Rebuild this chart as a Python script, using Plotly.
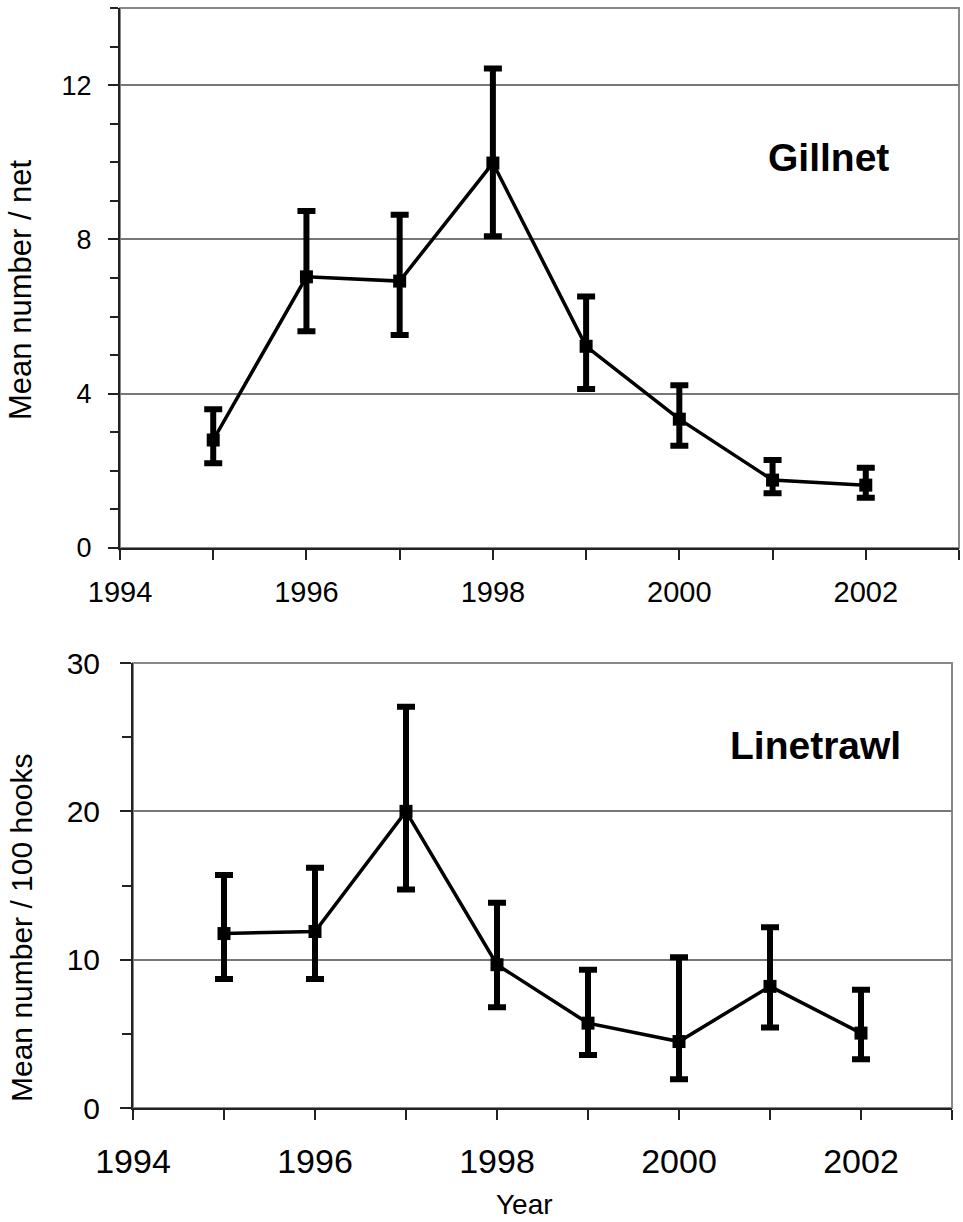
import plotly.graph_objects as go

# Survey years
years = [1995, 1996, 1997, 1998, 1999, 2000, 2001, 2002]

# Gillnet: mean catch per net with upper/lower error limits
gill_mean = [2.80, 7.03, 6.92, 9.98, 5.23, 3.34, 1.76, 1.63]
gill_upper = [3.60, 8.74, 8.64, 12.43, 6.52, 4.22, 2.28, 2.08]
gill_lower = [2.20, 5.62, 5.52, 8.08, 4.12, 2.65, 1.42, 1.30]

# Linetrawl: mean catch per 100 hooks with upper/lower error limits
line_mean = [11.76, 11.90, 20.00, 9.66, 5.72, 4.48, 8.20, 5.05]
line_upper = [15.70, 16.20, 27.05, 13.83, 9.32, 10.16, 12.18, 7.97]
line_lower = [8.70, 8.70, 14.73, 6.80, 3.58, 1.94, 5.43, 3.29]

x_ticks = [1994, 1996, 1998, 2000, 2002]

W, H = 963, 1222
FONT = "Arial, Liberation Sans, sans-serif"


def px_x(p):
    return p / W


def px_y(p):
    return 1 - p / H


def series(mean, upper, lower, xa, ya):
    plus = [u - m for u, m in zip(upper, mean)]
    minus = [m - l for m, l in zip(mean, lower)]
    return go.Scatter(
        x=years, y=mean, xaxis=xa, yaxis=ya,
        mode="lines+markers",
        line=dict(color="black", width=3.5),
        marker=dict(symbol="square", size=13, color="black"),
        error_y=dict(type="data", symmetric=False, array=plus, arrayminus=minus,
                     color="black", thickness=6, width=9),
        showlegend=False,
    )


fig = go.Figure()
fig.add_trace(series(gill_mean, gill_upper, gill_lower, "x", "y"))
fig.add_trace(series(line_mean, line_upper, line_lower, "x2", "y2"))

axis_common = dict(showline=True, linecolor="#222", linewidth=2,
                   ticks="outside", tickcolor="#222", tickwidth=2,
                   zeroline=False, automargin=False)

fig.update_layout(
    width=W, height=H,
    margin=dict(l=0, r=0, t=0, b=0, autoexpand=False),
    paper_bgcolor="white", plot_bgcolor="white",
    font=dict(family=FONT, color="black"),
    xaxis=dict(domain=[px_x(120), px_x(959)], anchor="y", range=[1994, 2003],
               tickvals=x_ticks, ticklen=10, showgrid=False,
               tickfont=dict(size=29), ticklabelstandoff=7,
               minor=dict(dtick=1, tick0=1994, ticks="outside", ticklen=10,
                          tickcolor="#222", tickwidth=2, showgrid=False),
               **axis_common),
    yaxis=dict(domain=[px_y(548), px_y(8)], anchor="x", range=[0, 14],
               tick0=0, dtick=4, ticklen=10, showgrid=True,
               gridcolor="#777", gridwidth=1.5,
               tickfont=dict(size=27), ticklabelstandoff=11,
               minor=dict(dtick=1, tick0=0, ticks="outside", ticklen=8,
                          tickcolor="#222", tickwidth=2, showgrid=False),
               **axis_common),
    xaxis2=dict(domain=[px_x(133), px_x(952)], anchor="y2", range=[1994, 2003],
                tickvals=x_ticks, ticklen=10, showgrid=False,
                tickfont=dict(size=34), ticklabelstandoff=12,
                minor=dict(dtick=1, tick0=1994, ticks="outside", ticklen=10,
                           tickcolor="#222", tickwidth=2, showgrid=False),
                **axis_common),
    yaxis2=dict(domain=[px_y(1108), px_y(663)], anchor="x2", range=[0, 30],
                tick0=0, dtick=10, ticklen=11, showgrid=True,
                gridcolor="#777", gridwidth=1.5,
                tickfont=dict(size=30), ticklabelstandoff=14,
                minor=dict(dtick=5, tick0=0, ticks="outside", ticklen=9,
                           tickcolor="#222", tickwidth=2, showgrid=False),
                **axis_common),
)

# Gray frame around each plot area
for xr, yr in (("x domain", "y domain"), ("x2 domain", "y2 domain")):
    fig.add_shape(type="rect", xref=xr, yref=yr, x0=0, x1=1, y0=0, y1=1,
                  line=dict(color="#888", width=2), layer="below")


def label(text, x, y, size, angle=0):
    fig.add_annotation(text=text, xref="paper", yref="paper",
                       x=px_x(x), y=px_y(y), xanchor="center", yanchor="middle",
                       showarrow=False, textangle=angle,
                       font=dict(size=size, family=FONT))


# Panel labels and axis titles
label("<b>Gillnet</b>", 828, 157, 39)
label("<b>Linetrawl</b>", 815, 745, 39)
label("Mean number / net", 21, 290, 31, -90)
label("Mean number / 100 hooks", 21, 928, 30, -90)
label("Year", 524, 1204, 28)

fig.write_html("out.html")
